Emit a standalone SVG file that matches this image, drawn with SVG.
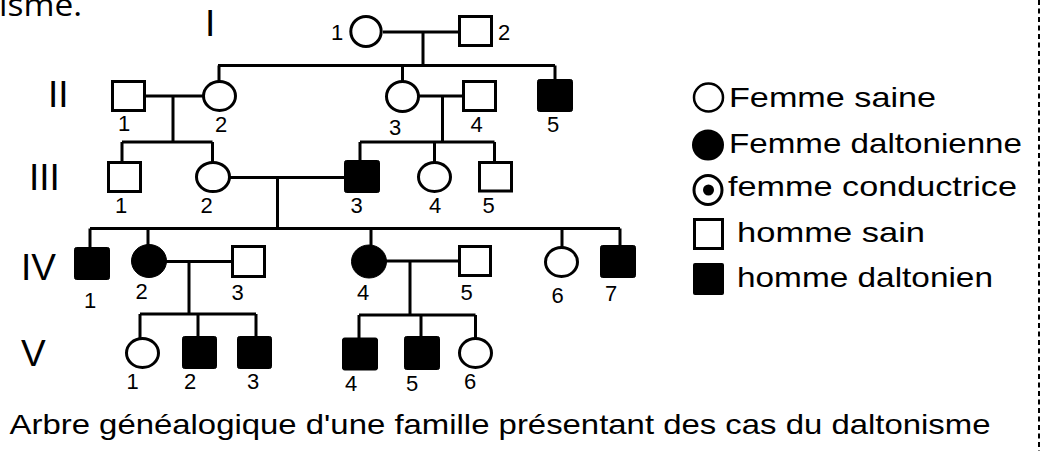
<svg xmlns="http://www.w3.org/2000/svg" width="1043" height="451" viewBox="0 0 1043 451">
<style>
.ln{stroke:#000;stroke-width:3;fill:none}
.o{fill:#fff;stroke:#000;stroke-width:3}
.f{fill:#000;stroke:#000;stroke-width:1}
.n{font-family:"Liberation Sans",Arial,sans-serif;font-size:22px;fill:#000;text-anchor:middle}
.g{font-family:"Liberation Sans",Arial,sans-serif;font-size:37px;fill:#000}
.t{font-family:"Liberation Sans",Arial,sans-serif;font-size:28px;fill:#000}
</style>
<rect width="1043" height="451" fill="#fff"/>
<text x="-1" y="16" font-family="'Open Sans',sans-serif" font-size="31" textLength="83" lengthAdjust="spacingAndGlyphs">isme.</text>
<line x1="1039" y1="0" x2="1039" y2="451" stroke="#000" stroke-width="2" stroke-dasharray="5 3.5"/>
<g id="generations">
<text class="g" x="205" y="36">I</text>
<text class="g" x="48" y="107">II</text>
<text class="g" x="29" y="190">III</text>
<text class="g" x="21" y="280">IV</text>
<text class="g" x="21" y="366">V</text>
</g>
<g id="connectors">
<path class="ln" d="M383 32H458M423 32V65.5M218 65.5H555M219 65.5V81M402.5 65.5V81M555 65.5V80"/>
<path class="ln" d="M146 96H203M173 96V142M122 142H212.5M122 142V162M212.5 142V162"/>
<path class="ln" d="M418 96H464M442.5 96V142M360 142H494.5M360 142V160M434.5 142V162M494.5 142V162"/>
<path class="ln" d="M229 177.5H345M277.5 177.5V228.5M90 228.5H620M90 228.5V248M148 228.5V245M371 228.5V246M562 228.5V247M620 228.5V246"/>
<path class="ln" d="M166 261.5H232M189 261.5V314M140 314H256M140 314V338M198 314V337M256 314V337"/>
<path class="ln" d="M386 261H459M410 261V315M359 315H475.5M359 315V339M421 315V337M475.5 315V338"/>
</g>
<g id="I-1"><ellipse class="o" cx="366" cy="31.5" rx="15.2" ry="15"/><text class="n" x="337" y="40">1</text></g>
<g id="I-2"><rect class="o" x="459.5" y="16.5" width="32" height="29"/><text class="n" x="504" y="40">2</text></g>
<g id="II-1"><rect class="o" x="112.5" y="81.5" width="32" height="29"/><text class="n" x="124" y="131">1</text></g>
<g id="II-2"><ellipse class="o" cx="219.5" cy="96" rx="16" ry="14.5"/><text class="n" x="221" y="132">2</text></g>
<g id="II-3"><ellipse class="o" cx="402.5" cy="96.5" rx="16" ry="15"/><text class="n" x="395" y="135">3</text></g>
<g id="II-4"><rect class="o" x="463.5" y="81.5" width="32" height="29"/><text class="n" x="476.5" y="132">4</text></g>
<g id="II-5"><rect class="f" x="537.5" y="79.5" width="35" height="32" rx="2"/><text class="n" x="553" y="132">5</text></g>
<g id="III-1"><rect class="o" x="108.5" y="162.5" width="32" height="29"/><text class="n" x="121" y="213">1</text></g>
<g id="III-2"><ellipse class="o" cx="213" cy="177" rx="16.5" ry="14.5"/><text class="n" x="206.5" y="213">2</text></g>
<g id="III-3"><rect class="f" x="344.5" y="160.5" width="35" height="32" rx="2"/><text class="n" x="356.5" y="213">3</text></g>
<g id="III-4"><ellipse class="o" cx="434.5" cy="177" rx="16" ry="14.5"/><text class="n" x="435" y="213">4</text></g>
<g id="III-5"><rect class="o" x="479.5" y="162.5" width="32" height="28.5"/><text class="n" x="488.5" y="213">5</text></g>
<g id="IV-1"><rect class="f" x="74.5" y="247.5" width="35" height="32" rx="2"/><text class="n" x="90" y="308">1</text></g>
<g id="IV-2"><ellipse class="f" cx="149" cy="261" rx="17.5" ry="16.5"/><text class="n" x="141.5" y="299">2</text></g>
<g id="IV-3"><rect class="o" x="232.5" y="246.5" width="32" height="30"/><text class="n" x="237.5" y="300">3</text></g>
<g id="IV-4"><ellipse class="f" cx="369" cy="261.5" rx="17.5" ry="16.5"/><text class="n" x="363" y="300">4</text></g>
<g id="IV-5"><rect class="o" x="459.5" y="246.5" width="31" height="29"/><text class="n" x="466.5" y="300">5</text></g>
<g id="IV-6"><ellipse class="o" cx="561.5" cy="262" rx="16" ry="14.5"/><text class="n" x="557.5" y="303">6</text></g>
<g id="IV-7"><rect class="f" x="600.5" y="245.5" width="35" height="32" rx="2"/><text class="n" x="611" y="301">7</text></g>
<g id="V-1"><ellipse class="o" cx="142.5" cy="353" rx="16" ry="14.5"/><text class="n" x="132.5" y="389">1</text></g>
<g id="V-2"><rect class="f" x="182.5" y="336.5" width="34" height="32" rx="2"/><text class="n" x="190" y="389">2</text></g>
<g id="V-3"><rect class="f" x="237.5" y="336.5" width="34" height="32" rx="2"/><text class="n" x="253" y="389">3</text></g>
<g id="V-4"><rect class="f" x="342.5" y="338" width="35" height="32" rx="2"/><text class="n" x="351" y="391">4</text></g>
<g id="V-5"><rect class="f" x="404.5" y="336.5" width="35" height="33" rx="2"/><text class="n" x="412" y="391">5</text></g>
<g id="V-6"><ellipse class="o" cx="475.5" cy="353" rx="16" ry="14.5"/><text class="n" x="470" y="389">6</text></g>
<g id="legend">
<ellipse cx="708.5" cy="97.5" rx="14.5" ry="14" fill="#fff" stroke="#000" stroke-width="2.5"/>
<text class="t" x="729" y="107" textLength="207" lengthAdjust="spacingAndGlyphs">Femme saine</text>
<ellipse cx="708" cy="145" rx="16" ry="15.5" fill="#000"/>
<text class="t" x="729" y="153" textLength="293" lengthAdjust="spacingAndGlyphs">Femme daltonienne</text>
<ellipse cx="708" cy="190" rx="14" ry="14.5" fill="#fff" stroke="#000" stroke-width="3"/>
<circle cx="708.5" cy="190" r="5.5" fill="#000"/>
<text class="t" x="728" y="196" textLength="289" lengthAdjust="spacingAndGlyphs">femme conductrice</text>
<rect x="694.5" y="219.5" width="28" height="29" fill="#fff" stroke="#000" stroke-width="3"/>
<text class="t" x="737" y="242" textLength="188" lengthAdjust="spacingAndGlyphs">homme sain</text>
<rect x="693" y="263" width="31" height="32" rx="2" fill="#000"/>
<text class="t" x="737" y="287" textLength="256" lengthAdjust="spacingAndGlyphs">homme daltonien</text>
</g>
<text id="caption" class="t" x="9.5" y="434" textLength="981" lengthAdjust="spacingAndGlyphs">Arbre généalogique d'une famille présentant des cas du daltonisme</text>
</svg>
